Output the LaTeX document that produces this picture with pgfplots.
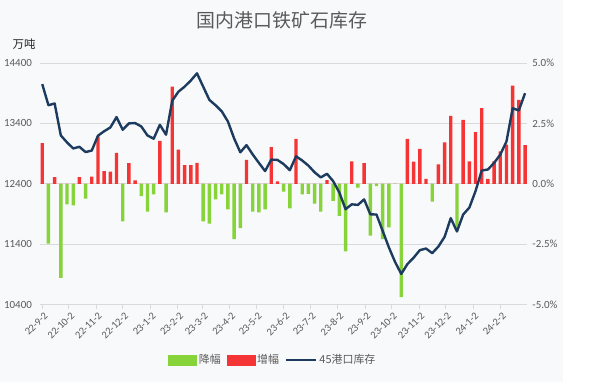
\documentclass[border=0pt]{standalone}
\usepackage{pgfplots}
\pgfplotsset{compat=1.18}
\usepackage{pgfplotstable}
\usepackage{fontspec}
\setmainfont{Carlito}
\newfontfamily\cjk{Noto Sans CJK SC}
\definecolor{xgreen}{HTML}{86D33A}
\definecolor{xred}{HTML}{F53535}
\definecolor{xnavy}{HTML}{1C3B5E}
\definecolor{xgrid}{HTML}{DADADA}
\definecolor{xtext}{HTML}{5A5A5A}
\definecolor{xbg}{HTML}{F8F9FA}

\pgfplotstableread{
w up dn inv
0 1.68 0 14050
1 0 -2.48 13700
2 0.27 0 13730
3 0 -3.90 13200
4 0 -0.85 13085
5 0 -0.90 12985
6 0.27 0 13012
7 0 -0.62 12925
8 0.30 0 12950
9 1.96 0 13196
10 0.52 0 13270
11 0.50 0 13332
12 1.28 0 13504
13 0 -1.56 13294
14 0.85 0 13400
15 0.14 0 13405
16 0 -0.51 13349
17 0 -1.15 13200
18 0 -0.44 13146
19 1.78 0 13377
20 0 -1.19 13212
21 4.02 0 13775
22 1.41 0 13925
23 0.77 0 14008
24 0.77 0 14110
25 0.86 0 14229
26 0 -1.56 14008
27 0 -1.65 13789
28 0 -0.65 13700
29 0 -0.44 13600
30 0 -1.06 13430
31 0 -2.29 13150
32 0 -1.84 12921
33 0.99 0 13040
34 0 -1.15 12885
35 0 -1.19 12746
36 0 -1.06 12610
37 1.52 0 12800
38 0.10 0 12795
39 0 -0.33 12725
40 0 -1.02 12625
41 1.86 0 12855
42 0 -0.44 12785
43 0 -0.42 12700
44 0 -0.82 12590
45 0 -1.15 12505
46 0.15 0 12565
47 0 -0.71 12443
48 0 -1.33 12255
49 0 -2.80 11978
50 0.93 0 12059
51 0 -0.16 12050
52 0.85 0 12141
53 0 -2.15 11894
54 0 -0.10 11890
55 0 -2.29 11619
56 0 -1.81 11346
57 0 0 11105
58 0 -4.69 10906
59 1.86 0 11070
60 0.92 0 11175
61 1.44 0 11300
62 0.20 0 11327
63 0 -0.74 11250
64 0.80 0 11360
65 1.71 0 11520
66 2.81 0 11830
67 0 -1.81 11609
68 2.65 0 11890
69 0.93 0 12005
70 2.14 0 12278
71 3.13 0 12619
72 0.20 0 12636
73 0.93 0 12745
74 1.34 0 12883
75 1.62 0 13100
76 4.06 0 13650
77 3.47 0 13615
78 1.60 0 13900
}\data

\begin{document}
\begin{tikzpicture}
\useasboundingbox (-40.4bp,-77.5bp) rectangle (557.6bp,304.5bp);
\fill[xbg] (-40.4bp,-77.5bp) rectangle (522.6bp,304.5bp);
\pgfplotsset{
  base/.style={
    scale only axis, width=486.5bp, height=241.5bp,
    xmin=-0.3, xmax=78.3,
    font=\fontsize{11}{13}\selectfont,
    tick label style={text=xtext},
    /pgf/number format/assume math mode=true,
    scaled ticks=false,
  }
}
% bars on the right (percent) axis
\begin{axis}[base,
  ymin=-5, ymax=5,
  axis x line=none,
  axis y line*=right,
  y axis line style={draw=none},
  ytick={-5,-2.5,0,2.5,5},
  yticklabels={-5.0\%,-2.5\%,0.0\%,2.5\%,5.0\%},
  major tick length=0pt,
  yticklabel style={xshift=2bp},
  ymajorgrids, grid style={xgrid, line width=0.6bp},
]
\addplot[ybar, bar width=0.55, bar shift=0pt, fill=xgreen, draw=none] table[x=w, y=dn] {\data};
\addplot[ybar, bar width=0.55, bar shift=0pt, fill=xred, draw=none] table[x=w, y=up] {\data};
\end{axis}
% inventory line on the left axis
\begin{axis}[base,
  ymin=10400, ymax=14400,
  axis x line*=bottom, axis y line*=left,
  y axis line style={draw=none},
  x axis line style={draw=xgrid, line width=0.6bp},
  ytick={10400,11400,12400,13400,14400},
  yticklabel style={xshift=-1bp, /pgf/number format/.cd, fixed, 1000 sep={}},
  xtick={0,4.286,8.714,13,17.429,21.857,25.857,30.286,34.571,39,43.286,47.714,52.143,56.429,60.857,65.143,69.571,74},
  xticklabels={22-9-2,22-10-2,22-11-2,22-12-2,23-1-2,23-2-2,23-3-2,23-4-2,23-5-2,23-6-2,23-7-2,23-8-2,23-9-2,23-10-2,23-11-2,23-12-2,24-1-2,24-2-2},
  xticklabel style={rotate=45, anchor=north east, font=\fontsize{10.5}{12}\selectfont, inner sep=1bp, yshift=-2bp},
  xtick style={draw=xgrid, line width=0.6bp},
  ytick style={draw=none},
  tick align=outside,
  major tick length=4bp,
  legend columns=3,
  legend style={draw=none, fill=none, at={(0.478,-0.23)}, anchor=center,
    font=\cjk\fontsize{11}{13}\selectfont, text=xtext,
    /tikz/every even column/.append style={column sep=4bp},
    inner sep=0pt},
  legend cell align=left,
]
\addlegendimage{legend image code/.code={\fill[xgreen] (0bp,-5bp) rectangle (28bp,5bp);}}
\addlegendentry{降幅}
\addlegendimage{legend image code/.code={\fill[xred] (0bp,-5bp) rectangle (28bp,5bp);}}
\addlegendentry{增幅}
\addplot[xnavy, line width=2.4bp, line join=round, mark=none,
  legend image code/.code={\draw[xnavy, line width=2.4bp] (0bp,0bp) -- (30bp,0bp);}]
  table[x=w, y=inv] {\data};
\addlegendentry{45港口库存}
\end{axis}
\node[font=\cjk\fontsize{19}{22}\selectfont, text=xtext] at (241.6bp,284.5bp) {国内港口铁矿石库存};
\node[font=\cjk\fontsize{11.5}{13}\selectfont, text=black!85] at (-16.4bp,260.5bp) {万吨};
\end{tikzpicture}
\end{document}
